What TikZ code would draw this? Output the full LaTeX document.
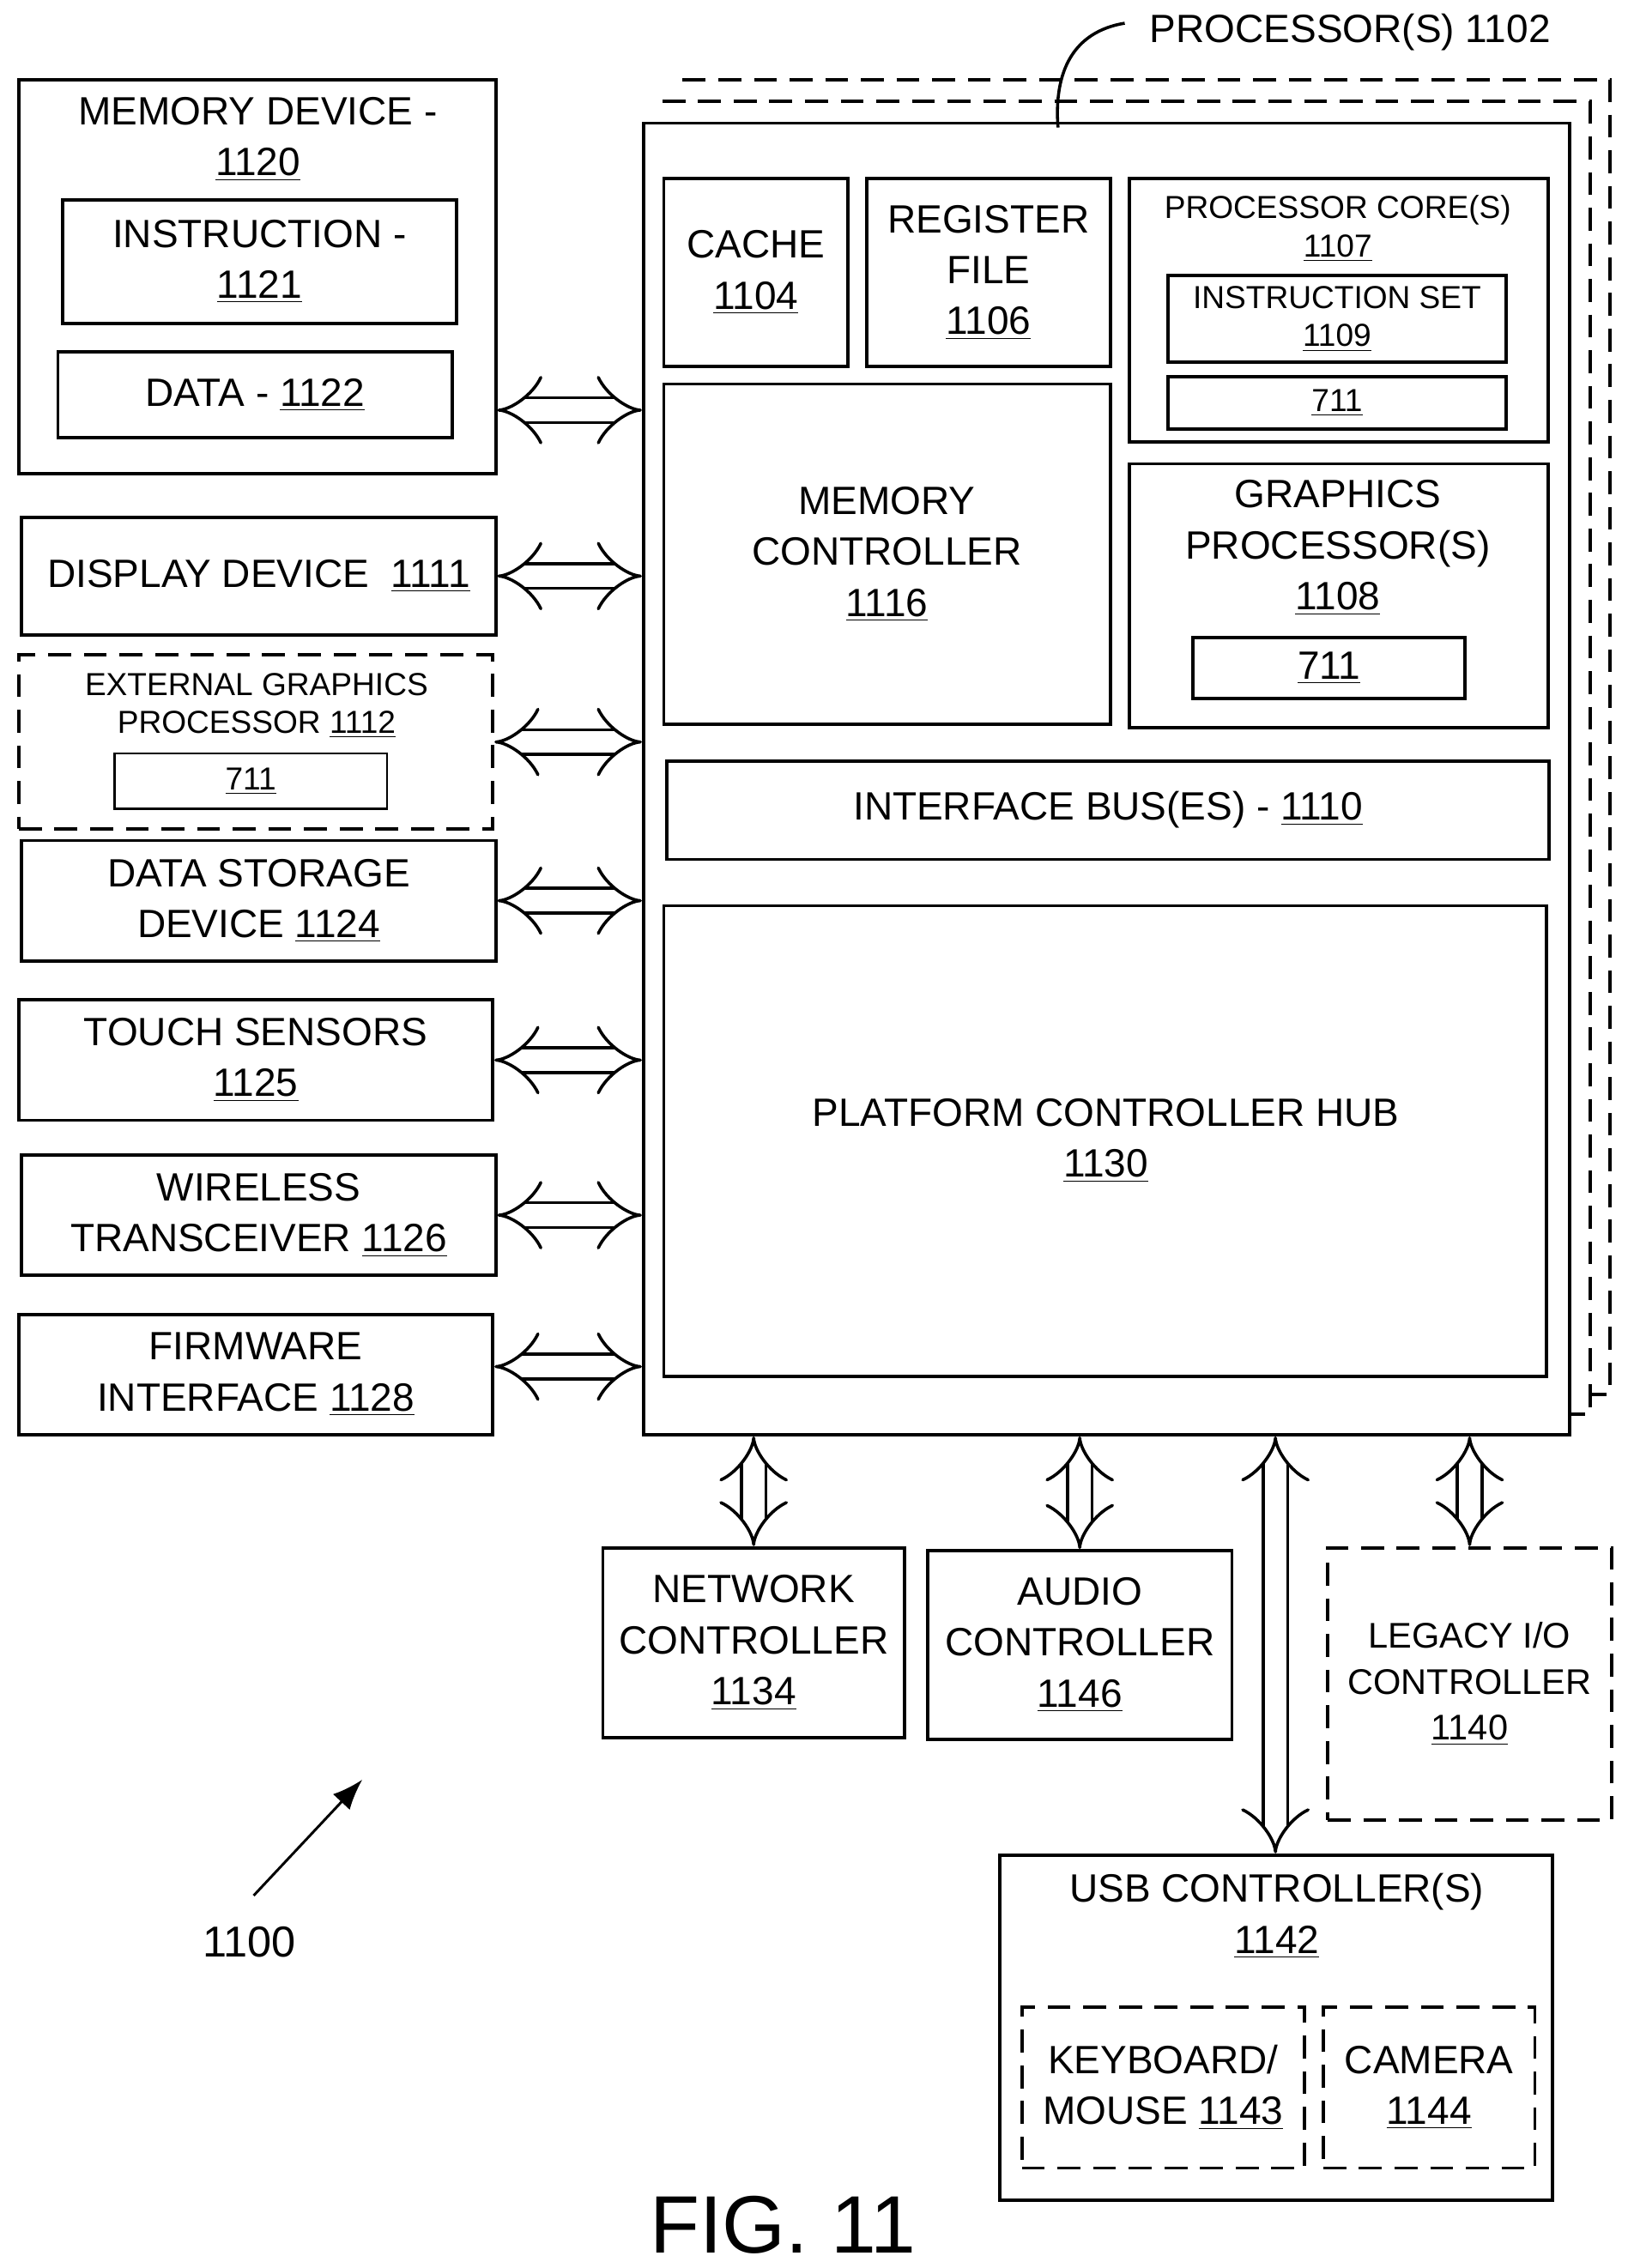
\documentclass[tikz,border=0pt]{standalone}
\usepackage{fontspec}
\setmainfont{Liberation Sans}
\usetikzlibrary{fit,arrows.meta}
\tikzset{
  box/.style={draw,line width=1.3pt,inner sep=0pt},
  dbox/.style={box,dash pattern=on 9pt off 5pt},
  lbl/.style={align=center,font=\fontsize{15.5}{20}\selectfont,inner sep=0pt},
  slbl/.style={align=center,font=\fontsize{12.5}{15}\selectfont,inner sep=0pt},
  dbl/.style={line width=1.2pt,double distance=8.5pt,{Implies}-{Implies}},
}
\begin{document}
\begin{tikzpicture}[x=0.02cm,y=-0.02cm]
\useasboundingbox (0,0) rectangle (1123,1565);
% processor stack
\draw[dbox] (471,55) -- (1111,55) -- (1111,962) -- (1097,962);
\draw[dbox] (457,70) -- (1097,70) -- (1097,976) -- (1083,976);
\node[box,fill=white,fit={(444,85)(1083,990)}] (proc) {};
\node[lbl,anchor=west] (proclbl) at (793,22) {PROCESSOR(S) 1102};
\coordinate (lead) at (776,16);
\draw[line width=1.2pt] (730,88) .. controls (727,50) and (740,22) .. (lead);
\node[box,fit={(458,123)(585,253)}] (cache) {};
\node[lbl] at (cache) {CACHE\\\underline{1104}};
\node[box,fit={(598,123)(766,253)}] (reg) {};
\node[lbl] at (reg) {REGISTER\\FILE\\\underline{1106}};
\node[box,fit={(779,123)(1068,305)}] (core) {};
\node[slbl] at (923,158) {PROCESSOR CORE(S)\\\underline{1107}};
\node[box,fit={(806,190)(1039,250)}] (iset) {};
\node[slbl] at (iset) {INSTRUCTION SET\\\underline{1109}};
\node[box,fit={(806,260)(1039,296)}] (cxa) {};
\node[slbl] at (cxa) {\underline{711}};
\node[box,fit={(458,265)(766,500)}] (memc) {};
\node[lbl] at (memc) {MEMORY\\CONTROLLER\\\underline{1116}};
\node[box,fit={(779,320)(1068,502)}] (gfx) {};
\node[lbl] at (923,378) {GRAPHICS\\PROCESSOR(S)\\\underline{1108}};
\node[box,fit={(823,440)(1011,482)}] (gxa) {};
\node[lbl] at (gxa) {\underline{711}};
\node[box,fit={(460,525)(1069,593)}] (bus) {};
\node[lbl] at (bus) {INTERFACE BUS(ES) - \underline{1110}};
\node[box,fit={(458,625)(1067,950)}] (pch) {};
\node[lbl] at (763,787) {PLATFORM CONTROLLER HUB\\\underline{1130}};
% left devices
\node[box,fit={(13,55)(342,327)}] (mem) {};
\node[lbl] at (178,96) {MEMORY DEVICE -\\\underline{1120}};
\node[box,fit={(43,138)(315,223)}] (instr) {};
\node[lbl] at (instr) {INSTRUCTION -\\\underline{1121}};
\node[box,fit={(40,243)(312,302)}] (data) {};
\node[lbl] at (data) {DATA - \underline{1122}};
\node[box,fit={(15,357)(342,438)}] (disp) {};
\node[lbl] at (disp) {DISPLAY DEVICE\ \ \underline{1111}};
\node[dbox,fit={(13,452)(340,572)}] (egfx) {};
\node[slbl] at (177,487) {EXTERNAL GRAPHICS\\PROCESSOR \underline{1112}};
\node[box,line width=0.8pt,fit={(79,520)(267,558)}] (exa) {};
\node[slbl] at (exa) {\underline{711}};
\node[box,fit={(15,580)(342,663)}] (stor) {};
\node[lbl] at (stor) {DATA STORAGE\\DEVICE \underline{1124}};
\node[box,fit={(13,690)(340,773)}] (touch) {};
\node[lbl] at (touch) {TOUCH SENSORS\\\underline{1125}};
\node[box,fit={(15,797)(342,880)}] (wifi) {};
\node[lbl] at (wifi) {WIRELESS\\TRANSCEIVER \underline{1126}};
\node[box,fit={(13,907)(340,990)}] (fw) {};
\node[lbl] at (fw) {FIRMWARE\\INTERFACE \underline{1128}};
% bottom devices
\node[box,fit={(416,1068)(624,1199)}] (net) {};
\node[lbl] at (net) {NETWORK\\CONTROLLER\\\underline{1134}};
\node[box,fit={(640,1070)(850,1200)}] (audio) {};
\node[lbl] at (audio) {AUDIO\\CONTROLLER\\\underline{1146}};
\node[dbox,fit={(916,1068)(1112,1256)}] (legacy) {};
\node[lbl,font=\fontsize{14}{18}\selectfont] at (legacy) {LEGACY I/O\\CONTROLLER\\\underline{1140}};
\node[box,fit={(690,1280)(1071,1518)}] (usb) {};
\node[lbl] at (881,1322) {USB CONTROLLER(S)\\\underline{1142}};
\node[dbox,fit={(705,1385)(900,1496)}] (kbd) {};
\node[lbl] at (kbd) {KEYBOARD/\\MOUSE \underline{1143}};
\node[dbox,fit={(913,1385)(1059,1496)}] (cam) {};
\node[lbl] at (cam) {CAMERA\\\underline{1144}};
% connectors
\draw[dbl] (mem.east |- 0,283) -- (proc.west |- 0,283);
\draw[dbl] (disp.east) -- (disp.east -| proc.west);
\draw[dbl] (egfx.east) -- (egfx.east -| proc.west);
\draw[dbl] (stor.east) -- (stor.east -| proc.west);
\draw[dbl] (touch.east) -- (touch.east -| proc.west);
\draw[dbl] (wifi.east) -- (wifi.east -| proc.west);
\draw[dbl] (fw.east |- 0,943) -- (proc.west |- 0,943);
\draw[dbl] (proc.south -| net.north) -- (net.north);
\draw[dbl] (proc.south -| audio.north) -- (audio.north);
\draw[dbl] (proc.south -| 880,0) -- (usb.north -| 880,0);
\draw[dbl] (proc.south -| legacy.north) -- (legacy.north);
% labels
\node[lbl,font=\fontsize{17}{20}\selectfont] (num) at (172,1340) {1100};
\draw[line width=1pt,-{Latex[length=12pt]}] (175,1308) -- (250,1228);
\node[lbl,font=\fontsize{32}{34}\selectfont] (fig) at (540,1535) {FIG. 11};
\end{tikzpicture}
\end{document}
